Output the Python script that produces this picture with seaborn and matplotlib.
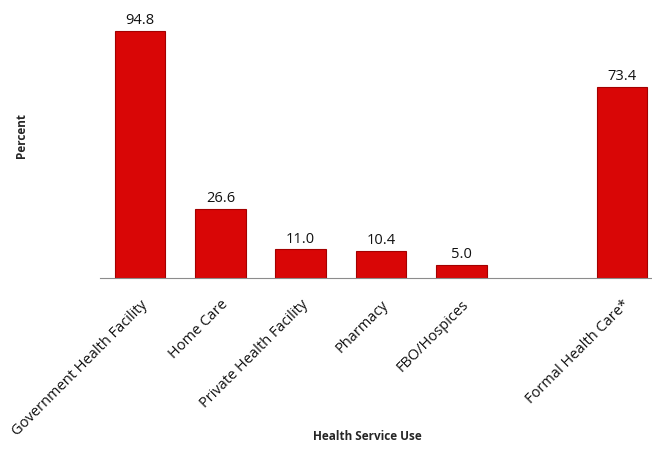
import pandas as pd
import matplotlib
matplotlib.use('Agg')
import matplotlib.pyplot as plt
import seaborn as sns

categories = ['Government Health Facility', 'Home Care', 'Private Health Facility',
              'Pharmacy', 'FBO/Hospices', 'Formal Health Care*']
percent = [94.8, 26.6, 11.0, 10.4, 5.0, 73.4]
# blank slot between FBO/Hospices and Formal Health Care*
order = ['Government Health Facility', 'Home Care', 'Private Health Facility',
         'Pharmacy', 'FBO/Hospices', ' ', 'Formal Health Care*']

df = pd.DataFrame({'service': categories, 'percent': percent})

sns.set_style('white')
plt.rcParams['font.family'] = ['Open Sans', 'DejaVu Sans']

fig = plt.figure(figsize=(6.52, 4.72), dpi=100)
ax = fig.add_axes([100/652, 194/472, 562/652, 260.6/472])

sns.barplot(data=df, x='service', y='percent', order=order, ax=ax,
            color='#D90606', edgecolor='#A30000', linewidth=0.8,
            width=0.63, saturation=1)

for c in ax.containers:
    ax.bar_label(c, fmt='%.1f', padding=2, fontsize=10.5, color='#111111')

ax.set_ylim(0, 100)
ax.set_xlim(-0.5, 6.5)
ax.set_yticks([])
for s in ['top', 'right', 'left']:
    ax.spines[s].set_visible(False)
ax.spines['bottom'].set_color('#8c8c8c')
ax.spines['bottom'].set_linewidth(0.8)

ax.set_xticks(range(7))
ax.set_xticklabels(order, rotation=45, ha='right', rotation_mode='anchor',
                   fontsize=10.5, color='#111111')
ax.tick_params(axis='x', which='major', length=0, pad=14)
ax.set_xticks([i - 0.5 for i in range(8)], minor=True)
ax.tick_params(axis='x', which='minor', length=5, color='#8c8c8c', width=0.8)

ax.set_xlabel('')
ax.set_ylabel('')
fig.text(367/652, 1 - 437/472, 'Health Service Use', ha='center', va='center',
         fontsize=8.5, fontweight='bold')
fig.text(22/652, 1 - 135/472, 'Percent', ha='center', va='center', rotation=90,
         fontsize=8.5, fontweight='bold')

fig.savefig('out.png', dpi=100)
